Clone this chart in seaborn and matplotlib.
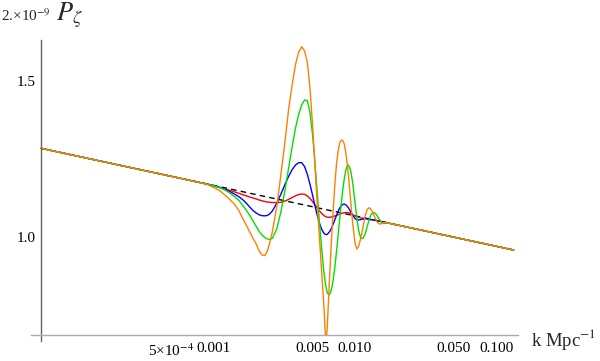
import numpy as np
import pandas as pd
import seaborn as sns
import matplotlib.pyplot as plt
from matplotlib.ticker import NullFormatter

# k in units of 1e-3 Mpc^-1, shared by all curves
k_e3 = [0.06, 0.7, 0.8, 0.9, 1.0, 1.1, 1.2, 1.3, 1.4, 1.5,
        1.6, 1.7, 1.8, 1.9, 2.0, 2.1, 2.2, 2.3, 2.4, 2.5,
        2.6, 2.8, 3.0, 3.2, 3.4, 3.6, 3.8, 4.0, 4.2, 4.4,
        4.6, 4.8, 5.0, 5.2, 5.4, 5.6, 5.8, 6.0, 6.1, 6.2,
        6.3, 6.4, 6.6, 6.8, 7.0, 7.2, 7.4, 7.6, 7.8, 8.0,
        8.2, 8.4, 8.6, 8.8, 9.0, 9.3, 9.6, 10.0, 10.3, 10.6,
        11.0, 11.4, 11.8, 12.2, 12.6, 13.0, 13.5, 14.0, 14.5, 15.0,
        15.5, 16.0, 17.0, 18.0, 20.0, 133.0]

# P_zeta in units of 2e-9
p_red = [1.2581, 1.1566, 1.1509, 1.1461, 1.1413, 1.1360, 1.1319, 1.1281, 1.1237, 1.1196,
         1.1155, 1.1120, 1.1086, 1.1057, 1.1029, 1.1000, 1.0977, 1.0957, 1.0943, 1.0935,
         1.0929, 1.0926, 1.0935, 1.0969, 1.1020, 1.1074, 1.1123, 1.1158, 1.1173, 1.1164,
         1.1117, 1.1046, 1.0960, 1.0866, 1.0776, 1.0696, 1.0626, 1.0573, 1.0552, 1.0538,
         1.0525, 1.0519, 1.0516, 1.0525, 1.0536, 1.0552, 1.0568, 1.0587, 1.0607, 1.0621,
         1.0634, 1.0643, 1.0648, 1.0648, 1.0643, 1.0621, 1.0593, 1.0557, 1.0536, 1.0516,
         1.0500, 1.0492, 1.0487, 1.0479, 1.0468, 1.0457, 1.0443, 1.0433, 1.0420, 1.0409,
         1.0396, 1.0386, 1.0367, 1.0345, 1.0308, 0.9660]

p_blue = [1.2581, 1.1563, 1.1509, 1.1467, 1.1419, 1.1372, 1.1310, 1.1246, 1.1173, 1.1100,
          1.1014, 1.0914, 1.0800, 1.0704, 1.0634, 1.0585, 1.0562, 1.0557, 1.0568, 1.0615,
          1.0690, 1.0914, 1.1185, 1.1458, 1.1707, 1.1911, 1.2050, 1.2120, 1.2120, 1.1997,
          1.1762, 1.1467, 1.1155, 1.0849, 1.0582, 1.0364, 1.0205, 1.0102, 1.0073, 1.0060,
          1.0057, 1.0070, 1.0128, 1.0216, 1.0327, 1.0448, 1.0570, 1.0682, 1.0774, 1.0837,
          1.0877, 1.0886, 1.0866, 1.0826, 1.0776, 1.0676, 1.0582, 1.0484, 1.0448, 1.0443,
          1.0454, 1.0470, 1.0481, 1.0476, 1.0462, 1.0451, 1.0448, 1.0435, 1.0421, 1.0411,
          1.0400, 1.0390, 1.0367, 1.0345, 1.0308, 0.9660]

p_green = [1.2581, 1.1563, 1.1509, 1.1467, 1.1413, 1.1363, 1.1290, 1.1202, 1.1100, 1.1000,
           1.0857, 1.0718, 1.0565, 1.0416, 1.0269, 1.0136, 1.0044, 0.9979, 0.9941, 0.9933,
           0.9956, 1.0216, 1.0690, 1.1299, 1.1981, 1.2656, 1.3276, 1.3752, 1.4085, 1.4263,
           1.4244, 1.3825, 1.3077, 1.2164, 1.1240, 1.0402, 0.9721, 0.9179, 0.8980, 0.8823,
           0.8707, 0.8630, 0.8601, 0.8705, 0.8922, 0.9229, 0.9620, 1.0036, 1.0484, 1.0903,
           1.1290, 1.1623, 1.1870, 1.2010, 1.2047, 1.1895, 1.1554, 1.0951, 1.0522, 1.0181,
           0.9956, 0.9956, 1.0073, 1.0264, 1.0454, 1.0593, 1.0654, 1.0615, 1.0530, 1.0440,
           1.0373, 1.0347, 1.0367, 1.0345, 1.0308, 0.9660]

p_orange = [1.2581, 1.1563, 1.1506, 1.1451, 1.1363, 1.1275, 1.1143, 1.1014, 1.0886, 1.0718,
            1.0497, 1.0307, 1.0123, 0.9953, 0.9812, 0.9635, 0.9535, 0.9523, 0.9635, 0.9863,
            1.0123, 1.0829, 1.1799, 1.2822, 1.3969, 1.4868, 1.5659, 1.6157, 1.6380, 1.6199,
            1.5742, 1.4715, 1.3435, 1.2110, 1.0914, 0.9992, 0.9171, 0.8440, 0.8054, 0.7647,
            0.7686, 0.8054, 0.8936, 0.9837, 1.0662, 1.1436, 1.2078, 1.2493, 1.2755, 1.2855,
            1.2838, 1.2721, 1.2461, 1.2110, 1.1707, 1.1029, 1.0416, 0.9837, 0.9686, 0.9748,
            0.9966, 1.0255, 1.0552, 1.0732, 1.0782, 1.0732, 1.0607, 1.0470, 1.0367, 1.0334,
            1.0347, 1.0375, 1.0367, 1.0345, 1.0308, 0.9660]

# featureless power law (dashed)
k_base_e3 = [0.06, 133.0]
p_base = [1.2581, 0.9660]

x_major = [5e-4, 1e-3, 5e-3, 1e-2, 5e-2, 1e-1]
x_major_labels = ["5×10$^{-4}$", "0.001", "0.005", "0.010", "0.050", "0.100"]
x_minor = [1e-4, 2e-4, 3e-4, 4e-4, 6e-4, 7e-4, 8e-4, 9e-4,
           2e-3, 3e-3, 4e-3, 6e-3, 7e-3, 8e-3, 9e-3,
           2e-2, 3e-2, 4e-2, 6e-2, 7e-2, 8e-2, 9e-2]
y_major = [1.0, 1.5]
y_major_labels = ["1.0", "1.5"]
y_minor = [1.1, 1.2, 1.3, 1.4, 1.6]

sns.set_style("white")
plt.rcParams['font.family'] = ['Liberation Serif', 'DejaVu Serif']
plt.rcParams['mathtext.fontset'] = 'stix'

k = np.array(k_e3) * 1e-3
curves = pd.concat([
    pd.DataFrame({'k': k, 'P': p_red, 'run': 'red'}),
    pd.DataFrame({'k': k, 'P': p_blue, 'run': 'blue'}),
    pd.DataFrame({'k': k, 'P': p_green, 'run': 'green'}),
    pd.DataFrame({'k': k, 'P': p_orange, 'run': 'orange'}),
])
base = pd.DataFrame({'k': np.array(k_base_e3) * 1e-3, 'P': p_base})

palette = {'red': '#ff0000', 'blue': '#0000ff', 'green': '#00e000', 'orange': '#ff8000'}

fig = plt.figure(figsize=(6, 3.61), dpi=100)
ax = fig.add_axes([31 / 600, 26 / 361, 487 / 600, 295 / 361])

sns.lineplot(data=base, x='k', y='P', color='black', lw=1.0, ls=(0, (4, 3)), ax=ax)
sns.lineplot(data=curves, x='k', y='P', hue='run', hue_order=['red', 'blue', 'green', 'orange'],
             palette=palette, estimator=None, sort=False, lw=1.0, legend=False, ax=ax)

ax.set_xscale('log')
ax.set_yscale('log')
ax.set_xlim(5.09e-5, 0.1426)
ax.set_ylim(0.7747, 1.6668)

for s in ['top', 'right']:
    ax.spines[s].set_visible(False)
ax.spines['left'].set_position(('data', 6e-5))
ax.spines['left'].set_bounds(0.7627, 1.6668)
ax.spines['left'].set_color('#666666')
ax.spines['bottom'].set_color('#aaaaaa')
ax.spines['left'].set_linewidth(1.0)
ax.spines['bottom'].set_linewidth(1.0)

ax.set_xticks(x_major, labels=x_major_labels)
ax.set_xticks(x_minor, minor=True)
ax.xaxis.set_minor_formatter(NullFormatter())
ax.set_yticks(y_major, labels=y_major_labels)
ax.set_yticks(y_minor, minor=True)
ax.yaxis.set_minor_formatter(NullFormatter())

ax.tick_params(axis='both', which='both', direction='in', labelsize=11, labelcolor='black')
ax.tick_params(axis='x', which='major', length=4.5, width=0.8, color='#999999', pad=5)
ax.tick_params(axis='x', which='minor', length=2.5, width=0.8, color='#999999')
ax.tick_params(axis='y', which='major', length=4.5, width=0.8, color='#666666', pad=4)
ax.tick_params(axis='y', which='minor', length=2.5, width=0.8, color='#666666')
ax.set_xlabel('')
ax.set_ylabel('')

fig.text(1 / 600, 1 - 21 / 361, "2.×10$^{-9}$", fontsize=11, va='baseline')
fig.text(56 / 600, 1 - 21 / 361, r"$P_\zeta$", fontsize=19, va='baseline')
fig.text(531 / 600, 1 - 346 / 361, "k Mpc$^{-1}$", fontsize=13.5, va='baseline')

fig.savefig('out.png', dpi=100)
